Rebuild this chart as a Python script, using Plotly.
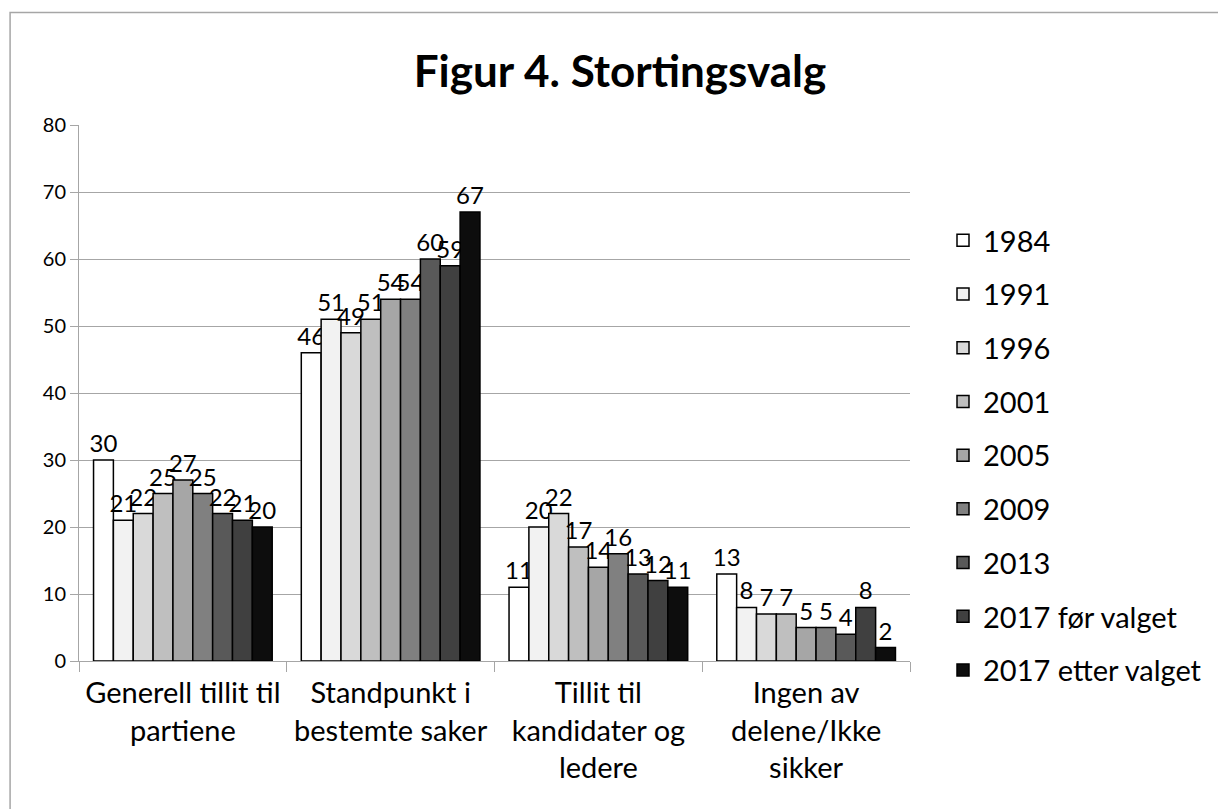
import plotly.graph_objects as go

categories = ["Generell tillit til<br>partiene", "Standpunkt i<br>bestemte saker",
              "Tillit til<br>kandidater og<br>ledere", "Ingen av<br>delene/Ikke<br>sikker"]
series_names = ["1984", "1991", "1996", "2001", "2005", "2009", "2013",
                "2017 før valget", "2017 etter valget"]
values = {
    "1984": [30, 46, 11, 13],
    "1991": [21, 51, 20, 8],
    "1996": [22, 49, 22, 7],
    "2001": [25, 51, 17, 7],
    "2005": [27, 54, 14, 5],
    "2009": [25, 54, 16, 5],
    "2013": [22, 60, 13, 4],
    "2017 før valget": [21, 59, 12, 8],
    "2017 etter valget": [20, 67, 11, 2],
}
colors = ["#ffffff", "#f2f2f2", "#d9d9d9", "#bfbfbf", "#a6a6a6",
          "#808080", "#595959", "#404040", "#0d0d0d"]

FONT = "Lato"
W, H = 1218, 809
L, R, T, B = 79, 307, 125, 148
PW, PH = W - L - R, H - T - B

fig = go.Figure()
for name, col in zip(series_names, colors):
    fig.add_trace(go.Bar(
        name=name, x=categories, y=values[name],
        marker=dict(color=col, line=dict(color="#000000", width=1.5)),
        text=values[name], textposition="outside", constraintext="none",
        cliponaxis=False, legendgroup=name,
        textfont=dict(family=FONT, size=24, color="#000000"),
    ))

fig.update_layout(
    width=W, height=H,
    paper_bgcolor="white", plot_bgcolor="white",
    margin=dict(l=L, r=R, t=T, b=B),
    barmode="group", bargap=0.14, bargroupgap=0,
    title=dict(text="<b>Figur 4. Stortingsvalg</b>", x=620 / W, xanchor="center",
               y=1 - 72 / H, yanchor="middle", xref="container", yref="container",
               font=dict(family=FONT, size=44, color="#000000")),
    font=dict(family=FONT, size=20, color="#000000"),
    legend=dict(x=(943 - L) / PW, y=(661 - 455.5) / PH, xanchor="left", yanchor="middle",
                font=dict(family=FONT, size=29, color="#000000"),
                tracegroupgap=13, itemwidth=30),
    showlegend=True,
)
fig.update_yaxes(range=[0, 80], dtick=10, showgrid=True, gridcolor="#a6a6a6",
                 gridwidth=1, showline=True, linecolor="#a6a6a6", ticks="outside",
                 tickcolor="#a6a6a6", ticklen=8, zeroline=False,
                 tickfont=dict(family=FONT, size=20, color="#000000"))
fig.update_xaxes(showline=True, linecolor="#a6a6a6", ticks="outside",
                 tickson="boundaries", tickcolor="#a6a6a6", ticklen=10,
                 ticklabelstandoff=6,
                 tickfont=dict(family=FONT, size=29, color="#000000"))
fig.add_shape(type="rect", xref="paper", yref="paper",
              x0=(10 - L) / PW, x1=1 + (W + 20 - (L + PW)) / PW,
              y0=-(H + 20 - (T + PH)) / PH, y1=1 + (T - 12.5) / PH,
              line=dict(color="#a6a6a6", width=1.5))
fig.write_html("out.html", config={"displayModeBar": False},
               post_script="document.body.style.margin='0';")
